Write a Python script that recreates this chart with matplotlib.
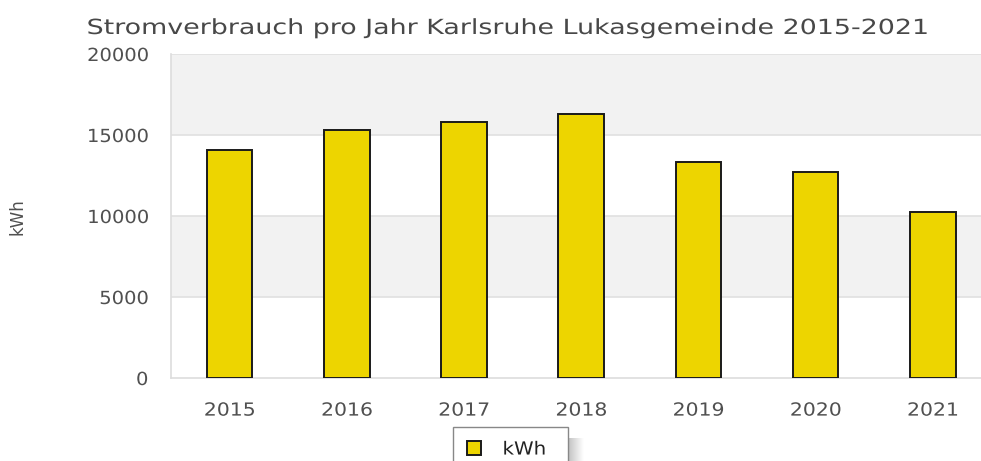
import matplotlib
matplotlib.use("Agg")
import numpy as np
import matplotlib.pyplot as plt
from matplotlib.patheffects import AbstractPathEffect
from matplotlib.transforms import Affine2D
from matplotlib.colors import LinearSegmentedColormap

years = ["2015", "2016", "2017", "2018", "2019", "2020", "2021"]
kwh = [14070, 15300, 15790, 16310, 13350, 12710, 10230]
yticks = [0, 5000, 10000, 15000, 20000]
title = "Stromverbrauch pro Jahr Karlsruhe Lukasgemeinde 2015-2021"
ylabel = "kWh"
series_name = "kWh"


class StretchX(AbstractPathEffect):
    """Draw text a little wider (the reference font is wider than DejaVu Sans)."""

    def __init__(self, sx, anchor="left"):
        super().__init__()
        self.sx = sx
        self.anchor = anchor

    def draw_path(self, renderer, gc, tpath, affine, rgbFace=None):
        ext = tpath.get_extents(affine)
        if self.anchor == "left":
            x0 = ext.x0
        elif self.anchor == "right":
            x0 = ext.x1
        else:
            x0 = 0.5 * (ext.x0 + ext.x1)
        aff = affine + Affine2D().translate(-x0, 0).scale(self.sx, 1.0).translate(x0, 0)
        renderer.draw_path(gc, tpath, aff, rgbFace)


W, H = 981, 461
fig = plt.figure(figsize=(W / 100, H / 100), dpi=100)
fig.patch.set_facecolor("white")

text_color = "#505050"
bar_color = "#EDD500"

# axes: left 171 px, top 54 px, bottom 378 px, category width ~117.2 px
left = 171 / W
bottom = (H - 378) / H
height = 324 / H
width = 7 * 117.2 / W
ax = fig.add_axes([left, bottom, width, height])
ax.set_facecolor("white")

x = list(range(len(years)))
ax.set_xlim(-0.5, len(years) - 0.5)
ax.set_ylim(yticks[0], yticks[-1])

# alternating bands
for i in range(len(yticks) - 1):
    if i % 2 == 1:
        ax.axhspan(yticks[i], yticks[i + 1], facecolor="#F2F2F2", edgecolor="none", zorder=0)
for t in yticks[1:]:
    ax.axhline(t, color="#E0E0E0", linewidth=1.2, zorder=1)

ax.bar(x, kwh, width=0.39, color=bar_color, edgecolor="#1a1a1a", linewidth=1.4,
       zorder=3, label=series_name)

for s in ["top", "right"]:
    ax.spines[s].set_visible(False)
ax.spines["left"].set_color("#DDDDDD")
ax.spines["bottom"].set_color("#DDDDDD")
ax.spines["left"].set_linewidth(1.2)
ax.spines["bottom"].set_linewidth(1.2)

ax.set_yticks(yticks)
ax.set_yticklabels([str(t) for t in yticks])
ax.set_xticks(x)
ax.set_xticklabels(years)
ax.tick_params(axis="both", length=0, colors=text_color, labelsize=13)
ax.tick_params(axis="y", pad=16.5)
ax.tick_params(axis="x", pad=17)
for lab in ax.get_xticklabels():
    lab.set_path_effects([StretchX(1.13, "center")])
for lab in ax.get_yticklabels():
    lab.set_path_effects([StretchX(1.08, "right")])

fig.text(18 / W, 1 - 217 / H, ylabel, rotation=90, ha="center", va="center",
         color=text_color, fontsize=12)

fig.text(87 / W, 1 - 34 / H, title, ha="left", va="baseline",
         color="#484848", fontsize=15, path_effects=[StretchX(1.29, "left")])

leg = fig.legend(loc="upper left",
                 bbox_to_anchor=(453 / W, 0, 115 / W, 1 - 427 / H),
                 bbox_transform=fig.transFigure, borderaxespad=0, mode="expand",
                 frameon=True, fontsize=13, shadow=False, fancybox=False,
                 handlelength=0.8, handleheight=0.85, borderpad=0.75,
                 handletextpad=1.2, labelcolor="#222222")
leg.get_frame().set_edgecolor("#888888")
leg.get_frame().set_linewidth(1.0)
leg.get_frame().set_alpha(1.0)
leg.set_zorder(10)
for t in leg.get_texts():
    t.set_path_effects([StretchX(1.1, "left")])

# soft drop shadow to the right of the legend box
fig.canvas.draw()
bb = leg.get_frame().get_window_extent()
sh_w, sh_dy = 16, 11
sax = fig.add_axes([bb.x1 / W, 0, sh_w / W, max(bb.y1 - sh_dy, 1) / H], zorder=5)
sax.axis("off")
grad = np.linspace(0, 1, 32).reshape(1, -1)
cmap = LinearSegmentedColormap.from_list("shadow", ["#c2c2c2", "#ffffff"])
sax.imshow(grad, aspect="auto", cmap=cmap, extent=(0, 1, 0, 1), interpolation="bilinear")

fig.savefig("out.png", dpi=100, facecolor="white")
